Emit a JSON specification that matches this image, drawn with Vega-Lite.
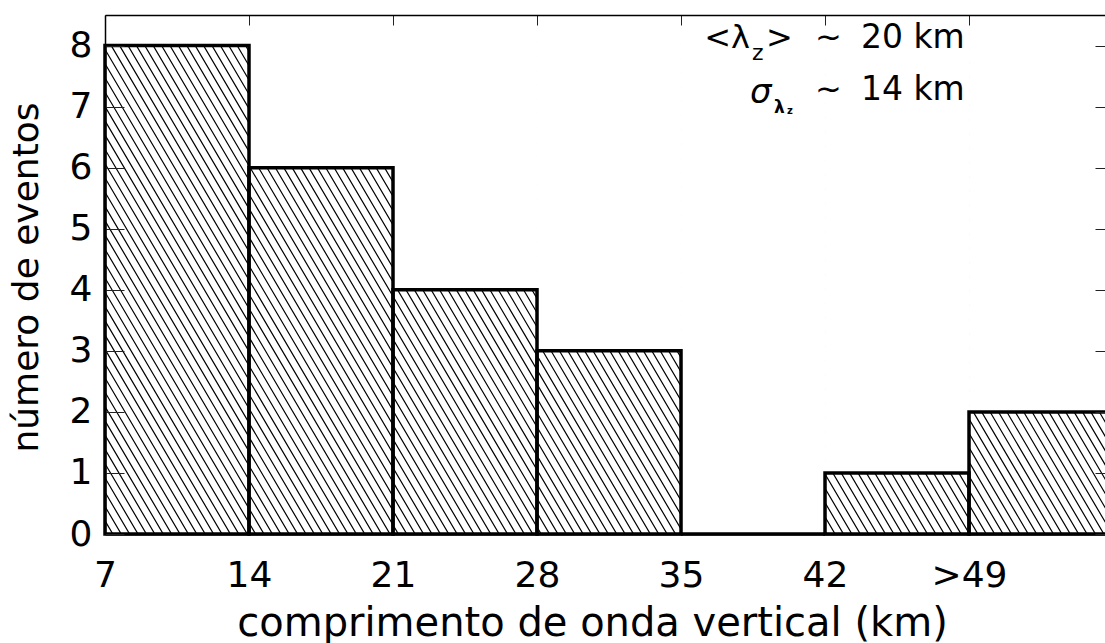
{
  "$schema": "https://vega.github.io/schema/vega-lite/v6.json",
  "width": 1000,
  "height": 519,
  "autosize": {"type": "none"},
  "padding": {"left": 105, "top": 15, "right": 0, "bottom": 109},
  "background": "white",
  "config": {
    "view": {"stroke": null},
    "font": "DejaVu Sans",
    "axis": {"labelFont": "DejaVu Sans", "titleFont": "DejaVu Sans", "labelColor": "black", "titleColor": "black", "grid": false},
    "text": {"font": "DejaVu Sans", "color": "black"}
  },
  "datasets": {
    "bins": [
      {"start": 7, "end": 14, "n": 8},
      {"start": 14, "end": 21, "n": 6},
      {"start": 21, "end": 28, "n": 4},
      {"start": 28, "end": 35, "n": 3},
      {"start": 35, "end": 42, "n": 0},
      {"start": 42, "end": 49, "n": 1},
      {"start": 49, "end": 56, "n": 2}
    ]
  },
  "resolve": {"axis": {"x": "independent", "y": "independent"}},
  "layer": [
    {
      "data": {"values": [{}]},
      "mark": {"type": "rule", "clip": true, "strokeWidth": 1000, "strokeDash": [1.2, 6.04], "color": "black", "strokeCap": "butt"},
      "encoding": {
        "x": {"datum": 6.17, "type": "quantitative", "scale": {"domain": [7, 55.61], "nice": false, "zero": false}, "axis": null},
        "y": {"datum": -0.73, "type": "quantitative", "scale": {"domain": [0, 8.5], "nice": false, "zero": false}, "axis": null},
        "x2": {"datum": 56.45},
        "y2": {"datum": 9.23}
      }
    },
    {
      "data": {"name": "bins"},
      "mark": {"type": "rect", "fill": "white", "strokeWidth": 0, "clip": true},
      "encoding": {
        "x": {"field": "start", "type": "quantitative",
          "axis": {"orient": "top", "values": [7, 14, 21, 28, 35, 42, 49], "tickSize": -10, "tickColor": "#222", "tickWidth": 1, "labels": false, "title": null, "domainColor": "black", "domainWidth": 1.5, "zindex": 1}},
        "x2": {"field": "end"},
        "y": {"field": "n", "type": "quantitative",
          "axis": {"orient": "right", "values": [0, 1, 2, 3, 4, 5, 6, 7, 8], "tickSize": -10, "tickColor": "#222", "tickWidth": 1, "labels": false, "domain": false, "title": null, "zindex": 1}},
        "y2": {"datum": 8.5}
      }
    },
    {
      "data": {"name": "bins"},
      "mark": {"type": "rect", "filled": false, "stroke": "black", "strokeWidth": 3.5},
      "encoding": {
        "x": {"field": "start", "type": "quantitative",
          "axis": {"orient": "bottom", "values": [7, 14, 21, 28, 35, 42, 49], "labelExpr": "datum.value == 49 ? '>49' : datum.label", "ticks": false, "labelFontSize": 36, "labelPadding": 24, "labelFlush": false, "labelOverlap": false, "domainColor": "black", "domainWidth": 2, "title": "comprimento de onda vertical (km)", "titleFontSize": 40, "titleFontWeight": "normal", "titleX": 487, "titleY": 101, "titleBaseline": "alphabetic", "titleAlign": "center", "zindex": 1}},
        "x2": {"field": "end"},
        "y": {"field": "n", "type": "quantitative",
          "axis": {"orient": "left", "values": [0, 1, 2, 3, 4, 5, 6, 7, 8], "tickSize": -19, "tickColor": "#222", "tickWidth": 1, "labelFontSize": 36, "labelPadding": 32, "labelFlush": false, "labelOverlap": false, "domainColor": "black", "domainWidth": 1.5, "title": "número de eventos", "titleFontSize": 36, "titleFontWeight": "normal", "titleX": -68, "titleY": 262, "titleAngle": -90, "titleBaseline": "alphabetic", "titleAlign": "center", "zindex": 1}},
        "y2": {"datum": 0}
      }
    },
    {"data": {"values": [{}]}, "mark": {"type": "text", "text": "<λ", "fontSize": 32, "align": "right", "baseline": "alphabetic"},
     "encoding": {"x": {"datum": 38.35, "type": "quantitative", "axis": null}, "y": {"datum": 7.959, "type": "quantitative", "axis": null}}},
    {"data": {"values": [{}]}, "mark": {"type": "text", "text": "z", "fontSize": 22, "align": "left", "baseline": "alphabetic"},
     "encoding": {"x": {"datum": 38.45, "type": "quantitative", "axis": null}, "y": {"datum": 7.763, "type": "quantitative", "axis": null}}},
    {"data": {"values": [{}]}, "mark": {"type": "text", "text": ">", "fontSize": 32, "align": "left", "baseline": "alphabetic"},
     "encoding": {"x": {"datum": 39.13, "type": "quantitative", "axis": null}, "y": {"datum": 7.959, "type": "quantitative", "axis": null}}},
    {"data": {"values": [{}]}, "mark": {"type": "text", "text": "~", "fontSize": 32, "align": "left", "baseline": "alphabetic"},
     "encoding": {"x": {"datum": 41.51, "type": "quantitative", "axis": null}, "y": {"datum": 7.959, "type": "quantitative", "axis": null}}},
    {"data": {"values": [{}]}, "mark": {"type": "text", "text": "20 km", "fontSize": 33, "align": "left", "baseline": "alphabetic"},
     "encoding": {"x": {"datum": 43.75, "type": "quantitative", "axis": null}, "y": {"datum": 7.959, "type": "quantitative", "axis": null}}},
    {"data": {"values": [{}]}, "mark": {"type": "text", "text": "σ", "fontSize": 34, "fontStyle": "italic", "align": "left", "baseline": "alphabetic"},
     "encoding": {"x": {"datum": 38.35, "type": "quantitative", "axis": null}, "y": {"datum": 7.059, "type": "quantitative", "axis": null}}},
    {"data": {"values": [{}]}, "mark": {"type": "text", "text": "λ", "fontSize": 17, "fontWeight": "bold", "align": "left", "baseline": "alphabetic"},
     "encoding": {"x": {"datum": 39.52, "type": "quantitative", "axis": null}, "y": {"datum": 6.895, "type": "quantitative", "axis": null}}},
    {"data": {"values": [{}]}, "mark": {"type": "text", "text": "z", "fontSize": 10, "fontWeight": "bold", "align": "left", "baseline": "alphabetic"},
     "encoding": {"x": {"datum": 40.15, "type": "quantitative", "axis": null}, "y": {"datum": 6.878, "type": "quantitative", "axis": null}}},
    {"data": {"values": [{}]}, "mark": {"type": "text", "text": "~", "fontSize": 32, "align": "left", "baseline": "alphabetic"},
     "encoding": {"x": {"datum": 41.51, "type": "quantitative", "axis": null}, "y": {"datum": 7.108, "type": "quantitative", "axis": null}}},
    {"data": {"values": [{}]}, "mark": {"type": "text", "text": "14 km", "fontSize": 33, "align": "left", "baseline": "alphabetic"},
     "encoding": {"x": {"datum": 43.75, "type": "quantitative", "axis": null}, "y": {"datum": 7.108, "type": "quantitative", "axis": null}}}
  ]
}
